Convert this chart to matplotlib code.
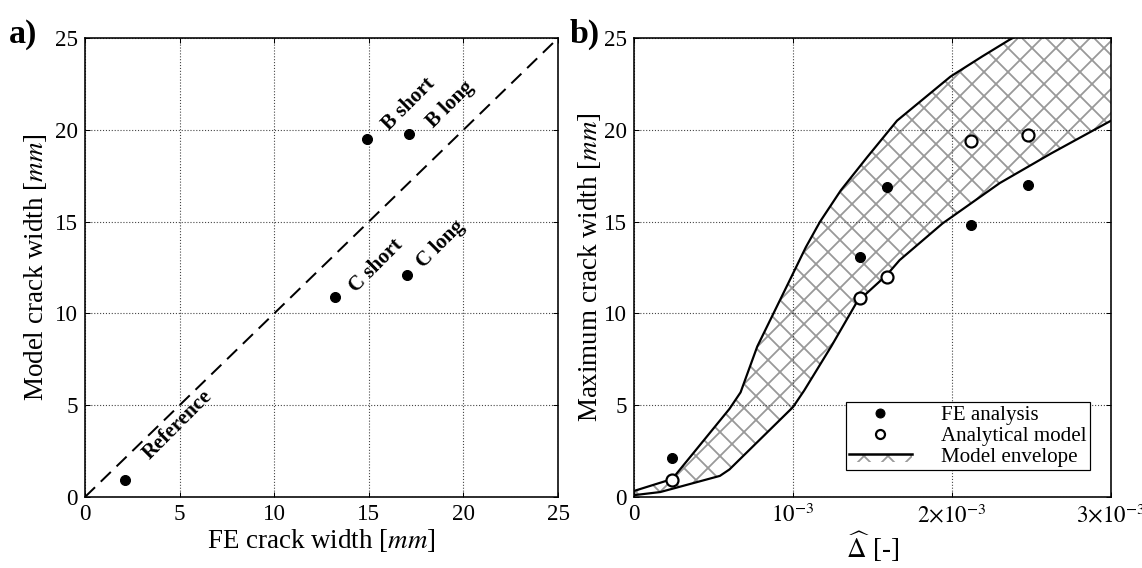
import numpy as np
import matplotlib
matplotlib.use("Agg")
from matplotlib import pyplot as plt
from matplotlib.patches import Patch, Rectangle
from matplotlib.lines import Line2D
from matplotlib.legend_handler import HandlerBase

# Panel a) data: FE crack width vs model crack width [mm]
names = ['Reference', 'C short', 'C long', 'B short', 'B long']
fe_width = [2.1, 13.2, 17.0, 14.9, 17.1]
model_width = [0.95, 10.9, 12.1, 19.5, 19.8]
# label centres (data coords) for the rotated names
label_x = [4.9, 15.4, 18.8, 17.1, 19.3]
label_y = [3.9, 12.6, 13.8, 21.4, 21.4]

# Panel b) data: Delta-hat vs maximum crack width [mm]
delta = [0.24e-3, 1.42e-3, 1.59e-3, 2.12e-3, 2.48e-3]
fe_max = [2.1, 13.1, 16.9, 14.8, 17.0]
analytical_max = [0.93, 10.85, 12.0, 19.4, 19.7]

# model envelope
upper_x = [0, 0.24e-3, 0.60e-3, 0.67e-3, 0.775e-3, 0.99e-3, 1.08e-3, 1.17e-3,
           1.30e-3, 1.465e-3, 1.654e-3, 1.99e-3, 2.19e-3, 2.36e-3, 2.7e-3, 3.0e-3]
upper_y = [0.33, 0.98, 4.8, 5.7, 8.2, 12.0, 13.6, 15.0,
           16.7, 18.5, 20.5, 22.9, 24.0, 24.9, 26.5, 27.8]
lower_x = [0, 0.165e-3, 0.54e-3, 0.60e-3, 1.0e-3, 1.07e-3, 1.24e-3, 1.40e-3,
           1.59e-3, 1.67e-3, 1.94e-3, 2.30e-3, 2.62e-3, 3.0e-3]
lower_y = [0.1, 0.27, 1.15, 1.5, 4.9, 5.8, 8.2, 10.6,
           12.1, 12.9, 14.9, 17.1, 18.7, 20.5]

xticks_b = [0, 1e-3, 2e-3, 3e-3]
xtick_labels_b = ['0', r'$10^{-3}$', r'$2{\times}10^{-3}$', r'$3{\times}10^{-3}$']

HATCH_GRAY = '#999999'

plt.rcParams['font.family'] = ['Liberation Serif', 'DejaVu Serif']
plt.rcParams['mathtext.fontset'] = 'stix'
plt.rcParams['hatch.linewidth'] = 1.8


class EnvelopeHandler(HandlerBase):
    """line on top of a hatched strip, like the envelope legend entry"""
    def create_artists(self, legend, orig_handle, xdescent, ydescent,
                       width, height, fontsize, trans):
        top = height * 0.55
        rect = Rectangle((-xdescent, -ydescent), width, top + ydescent,
                         facecolor='white', edgecolor=HATCH_GRAY,
                         linewidth=0, hatch='x', transform=trans)
        line = Line2D([-xdescent, width - xdescent], [top, top],
                      color='black', linewidth=2.5, transform=trans)
        return [rect, line]


fig = plt.figure(figsize=(1142 / 72, 568 / 72), dpi=72)
ax1 = fig.add_axes([0.0744, 0.125, 0.4143, 0.808])
ax2 = fig.add_axes([0.5552, 0.125, 0.4177, 0.808])

for ax in (ax1, ax2):
    ax.grid(True, linestyle=':', color='#444444', linewidth=1.1)
    ax.tick_params(direction='in', length=5, width=1, labelsize=23,
                   top=True, right=True, pad=7)
    for s in ax.spines.values():
        s.set_linewidth(1.6)
    ax.set_ylim(0, 25)
    ax.set_yticks([0, 5, 10, 15, 20, 25])

# a)
ax1.plot([0, 25], [0, 25], '--', color='black', linewidth=2, dashes=(7, 4))
ax1.plot(fe_width, model_width, 'o', color='black', markersize=10)
for n, lx, ly in zip(names, label_x, label_y):
    ax1.text(lx, ly, n, rotation=45, ha='center', va='center',
             fontsize=21, fontweight='bold', rotation_mode='anchor')
ax1.set_xlim(0, 25)
ax1.set_xticks([0, 5, 10, 15, 20, 25])
ax1.set_xlabel(r'FE crack width [$mm$]', fontsize=27, labelpad=2)
ax1.set_ylabel(r'Model crack width [$mm$]', fontsize=27, labelpad=6)
fig.text(0.008, 0.925, 'a)', fontsize=34, fontweight='bold')

# b)
env_x = upper_x + lower_x[::-1]
env_y = upper_y + lower_y[::-1]
ax2.fill(env_x, env_y, facecolor='white', edgecolor=HATCH_GRAY,
         linewidth=0, hatch='x')
ax2.plot(upper_x, upper_y, color='black', linewidth=2.2)
ax2.plot(lower_x, lower_y, color='black', linewidth=2.2)
ax2.plot(delta, fe_max, 'o', color='black', markersize=10)
ax2.plot(delta, analytical_max, 'o', markerfacecolor='white',
         markeredgecolor='black', markeredgewidth=2.2, markersize=12)
ax2.set_xlim(0, 3e-3)
ax2.set_xticks(xticks_b)
ax2.set_xticklabels(xtick_labels_b)
ax2.set_xlabel(r'$\widehat{\Delta}$ [-]', fontsize=27, labelpad=2)
ax2.set_ylabel(r'Maximum crack width [$mm$]', fontsize=27, labelpad=1)
fig.text(0.499, 0.925, 'b)', fontsize=34, fontweight='bold')

env_handle = Patch(label='Model envelope')
handles = [Line2D([], [], marker='o', linestyle='none', color='black', markersize=9),
           Line2D([], [], marker='o', linestyle='none', markerfacecolor='white',
                  markeredgecolor='black', markeredgewidth=2.2, markersize=9),
           env_handle]
leg = ax2.legend(handles, ['FE analysis', 'Analytical model', 'Model envelope'],
                 loc='lower right', bbox_to_anchor=(0.956, 0.059), fontsize=21,
                 fancybox=False, edgecolor='black', framealpha=1,
                 handlelength=3.0, handletextpad=1.4, labelspacing=0.05,
                 borderpad=0.15, borderaxespad=0,
                 handler_map={env_handle: EnvelopeHandler()})
leg.get_frame().set_linewidth(1.2)

fig.savefig('out.png', dpi=72)
